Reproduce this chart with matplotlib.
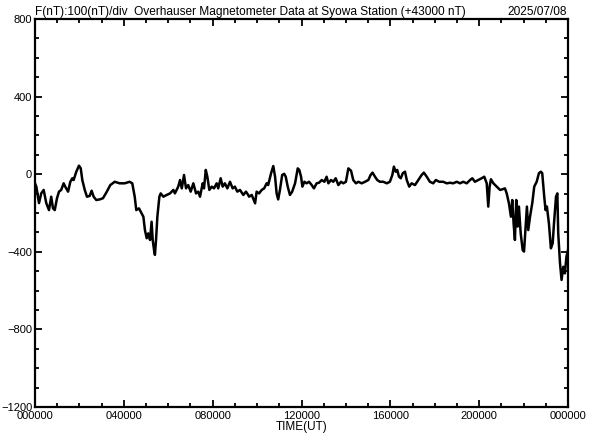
import numpy as np
import matplotlib.pyplot as plt

# time in hours (UT) and F offset from 43000 nT
hours = [0.0, 0.06, 0.18, 0.28, 0.39, 0.51, 0.63, 0.73, 0.81, 0.89, 0.99, 1.08, 1.18, 1.29, 1.36,
         1.49, 1.59, 1.68, 1.74, 1.86, 1.98, 2.06, 2.13, 2.24, 2.34, 2.46, 2.55, 2.64, 2.76, 2.91,
         3.06, 3.21, 3.39, 3.59, 3.81, 4.04, 4.26, 4.38, 4.49, 4.56, 4.68, 4.79, 4.88, 4.95, 5.03,
         5.10, 5.18, 5.25, 5.30, 5.36, 5.40, 5.45, 5.51, 5.60, 5.66, 5.78, 5.93, 6.08, 6.23, 6.30,
         6.45, 6.53, 6.61, 6.71, 6.80, 6.90, 7.01, 7.13, 7.25, 7.35, 7.43, 7.55, 7.61, 7.69, 7.76,
         7.85, 7.96, 8.06, 8.18, 8.25, 8.36, 8.45, 8.55, 8.66, 8.78, 8.90, 9.00, 9.11, 9.23, 9.38,
         9.50, 9.60, 9.64, 9.76, 9.91, 9.98, 10.09, 10.21, 10.32, 10.43, 10.50, 10.63, 10.73, 10.81,
         10.88, 10.95, 11.03, 11.13, 11.22, 11.29, 11.38, 11.48, 11.58, 11.71, 11.83, 11.90, 11.98,
         12.04, 12.13, 12.23, 12.34, 12.46, 12.56, 12.68, 12.79, 12.91, 13.03, 13.13, 13.21, 13.33,
         13.43, 13.54, 13.66, 13.78, 13.88, 14.00, 14.11, 14.23, 14.33, 14.45, 14.56, 14.71, 14.86,
         15.01, 15.11, 15.20, 15.31, 15.41, 15.53, 15.68, 15.84, 15.98, 16.09, 16.16, 16.24, 16.31,
         16.39, 16.47, 16.56, 16.66, 16.74, 16.85, 16.96, 17.11, 17.26, 17.41, 17.51, 17.64, 17.78,
         17.93, 18.05, 18.20, 18.38, 18.54, 18.69, 18.83, 18.99, 19.14, 19.28, 19.44, 19.59, 19.69,
         19.81, 19.96, 20.11, 20.23, 20.34, 20.41, 20.47, 20.53, 20.64, 20.79, 20.94, 21.04, 21.16,
         21.24, 21.34, 21.43, 21.49, 21.55, 21.61, 21.67, 21.73, 21.79, 21.87, 21.96, 22.02, 22.09,
         22.15, 22.21, 22.29, 22.39, 22.48, 22.59, 22.69, 22.78, 22.84, 22.93, 22.99, 23.05, 23.14,
         23.23, 23.31, 23.37, 23.46, 23.52, 23.56, 23.64, 23.71, 23.79, 23.86, 23.93, 24.0]
f_nt = [-47, -64, -149, -99, -81, -150, -185, -116, -176, -185, -124, -90, -81, -47, -64,
        -90, -39, -21, -30, 13, 44, 30, -30, -81, -116, -112, -85, -116, -133, -130,
        -124, -95, -56, -39, -47, -47, -39, -47, -116, -185, -176, -200, -219, -288, -330,
        -305, -339, -245, -339, -391, -416, -339, -219, -116, -99, -116, -107, -99, -81, -99,
        -64, -30, -73, -4, -73, -56, -90, -47, -99, -90, -116, -47, -73, 22, -13,
        -81, -64, -73, -47, -73, -21, -64, -47, -73, -39, -73, -64, -90, -81, -107,
        -90, -107, -116, -107, -150, -90, -99, -81, -73, -47, -56, 5, 42, -13,
        -99, -130, -81, -4, 2, -13, -64, -107, -90, -47, 30, 22, -13,
        -64, -39, -47, -39, -56, -73, -47, -44, -30, -39, -13, -47, -30,
        -39, -21, -56, -39, -47, -39, 30, 18, -30, -47, -39, -47, -39,
        -30, -4, 8, -13, -30, -39, -39, -47, -39, -4, 39, 13, 22,
        -13, -21, 5, 13, -30, -64, -47, -56, -30, -4, 8, -13, -39,
        -47, -30, -39, -39, -47, -44, -47, -39, -47, -39, -47, -30, -21,
        -39, -30, -21, -13, -47, -167, -64, -26, -47, -64, -81, -78, -73,
        -99, -150, -219, -133, -253, -339, -133, -270, -167, -305, -391, -399, -270,
        -167, -288, -219, -150, -64, -39, 5, 13, 5, -116, -185, -167, -253,
        -382, -356, -253, -116, -99, -305, -459, -545, -477, -511, -425, -391]

xtick_hours = [0, 4, 8, 12, 16, 20, 24]
xtick_labels = ['000000', '040000', '080000', '120000', '160000', '200000', '000000']
ytick_vals = [800, 400, 0, -400, -800, -1200]

plt.rcParams['font.family'] = ['Liberation Sans', 'DejaVu Sans']

fig = plt.figure(figsize=(5.92, 4.40), dpi=100)
ax = fig.add_axes([35/592, 1 - 407/440, 533/592, 388/440])

ax.plot(hours, f_nt, color='black', linewidth=1.8)

ax.set_xlim(0, 24)
ax.set_ylim(-1200, 800)
ax.set_xticks(xtick_hours)
ax.set_xticklabels(xtick_labels)
ax.set_xticks(np.arange(0, 25, 1), minor=True)
ax.set_yticks(ytick_vals)
ax.set_yticks(np.arange(-1200, 801, 100), minor=True)

ax.tick_params(which='both', direction='in', top=True, right=True, labelsize=8, width=1.3)
ax.tick_params(which='major', length=5)
ax.tick_params(which='minor', length=3)
ax.tick_params(axis='y', pad=2)
ax.tick_params(axis='x', pad=3)
for s in ax.spines.values():
    s.set_linewidth(1.6)

ax.set_xlabel('TIME(UT)', fontsize=8.5, labelpad=0)
fig.text(35/592, 1 - 12/440, 'F(nT):100(nT)/div  Overhauser Magnetometer Data at Syowa Station (+43000 nT)',
         fontsize=8.6, ha='left', va='center')
fig.text(567/592, 1 - 12/440, '2025/07/08', fontsize=8.6, ha='right', va='center')

fig.savefig('out.png', dpi=100)
